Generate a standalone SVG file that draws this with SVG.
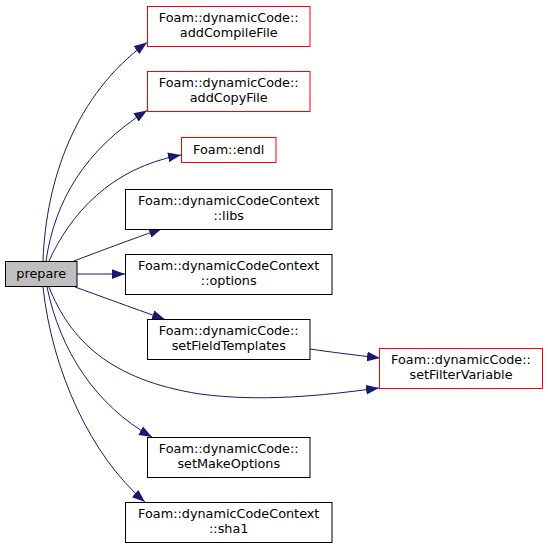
<svg xmlns="http://www.w3.org/2000/svg" width="548" height="548" viewBox="0 0 548 548">
<style>
.n rect{fill:#fff;stroke:#000;stroke-width:1}
.n.r rect{stroke:#ff0000}
.n.g rect{fill:#bfbfbf}
.n text{font-family:"DejaVu Sans",sans-serif;font-size:12.8px;text-anchor:middle;fill:#000}
.e path{fill:none;stroke:#191970;stroke-width:1;marker-end:url(#a)}
</style>
<defs>
<marker id="a" markerUnits="userSpaceOnUse" markerWidth="13" markerHeight="10" refX="12" refY="4.5" orient="auto" viewBox="0 0 12 9">
<path d="M0,0 L12,4.5 L0,9 z" fill="#191970" stroke="none"/>
</marker>
</defs>
<rect width="548" height="548" fill="#fff"/>
<g class="e" id="edges">
<path d="M43,261 C46,180 75,95 147,42.5"/>
<path d="M46,261 C55,200 85,150 147,110.5"/>
<path d="M49,261 C70,215 110,168 181,155"/>
<path d="M74,261 C100,251 130,240 162,228.5"/>
<path d="M77,274 L125,274"/>
<path d="M75,287 C100,296 130,307 165,319.5"/>
<path d="M310,349 C330,352 355,355 380,358"/>
<path d="M49,287 C70,340 110,380 200,394 C260,402 320,396 379,388"/>
<path d="M47,287 C60,350 95,405 152,437"/>
<path d="M43,287 C52,370 90,455 145,502"/>
</g>
<g class="n g" id="prepare"><rect x="5.5" y="261.5" width="71.5" height="25"/><text x="41.25" y="278">prepare</text></g>
<g class="n r" id="addCompileFile"><rect x="147.5" y="6.5" width="162.5" height="40"/><text x="228.75" y="21.5">Foam::dynamicCode::</text><text x="228.75" y="36.5">addCompileFile</text></g>
<g class="n r" id="addCopyFile"><rect x="147.5" y="71.5" width="162.5" height="40"/><text x="228.75" y="86.5">Foam::dynamicCode::</text><text x="228.75" y="101.5">addCopyFile</text></g>
<g class="n r" id="endl"><rect x="181.5" y="137.5" width="94.5" height="25"/><text x="228.75" y="154">Foam::endl</text></g>
<g class="n" id="libs"><rect x="125.5" y="189.5" width="206.5" height="40"/><text x="228.75" y="204.5">Foam::dynamicCodeContext</text><text x="228.75" y="219.5">::libs</text></g>
<g class="n" id="options"><rect x="125.5" y="254.5" width="206.5" height="40"/><text x="228.75" y="269.5">Foam::dynamicCodeContext</text><text x="228.75" y="284.5">::options</text></g>
<g class="n" id="setFieldTemplates"><rect x="147.5" y="319.5" width="162.5" height="40"/><text x="228.75" y="334.5">Foam::dynamicCode::</text><text x="228.75" y="349.5">setFieldTemplates</text></g>
<g class="n r" id="setFilterVariable"><rect x="379.5" y="348.5" width="163" height="40"/><text x="461" y="363.5">Foam::dynamicCode::</text><text x="461" y="378.5">setFilterVariable</text></g>
<g class="n" id="setMakeOptions"><rect x="147.5" y="437.5" width="162.5" height="40"/><text x="228.75" y="452.5">Foam::dynamicCode::</text><text x="228.75" y="467.5">setMakeOptions</text></g>
<g class="n" id="sha1"><rect x="125.5" y="502.5" width="206.5" height="40"/><text x="228.75" y="517.5">Foam::dynamicCodeContext</text><text x="228.75" y="532.5">::sha1</text></g>
</svg>
